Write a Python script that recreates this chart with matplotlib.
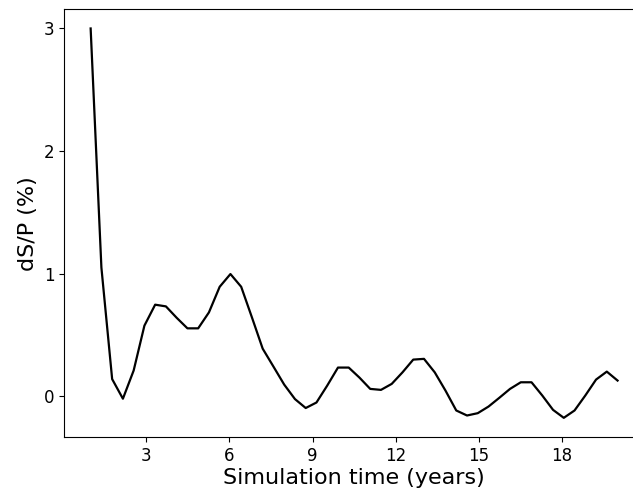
import numpy as np
import matplotlib
matplotlib.use("Agg")
import matplotlib.pyplot as plt

# Simulation time (years): 50 regular samples from year 1 to year 20
time_start = 1.0
time_end = 20.0
n_samples = 50
time_years = np.linspace(time_start, time_end, n_samples)

ds_over_p = [
    3.00, 1.05, 0.14, -0.02, 0.21, 0.576, 0.747, 0.733, 0.64, 0.554,
    0.554, 0.684, 0.893, 0.997, 0.893, 0.643, 0.388, 0.242, 0.095, -0.023,
    -0.096, -0.051, 0.087, 0.234, 0.234, 0.152, 0.060, 0.052, 0.101, 0.195,
    0.299, 0.305, 0.195, 0.046, -0.116, -0.157, -0.138, -0.084, -0.013, 0.060,
    0.114, 0.114, 0.006, -0.111, -0.176, -0.116, 0.006, 0.136, 0.201, 0.128,
]

x_ticks = [3, 6, 9, 12, 15, 18]
y_ticks = [0, 1, 2, 3]

fig = plt.figure(figsize=(6.33, 4.95), dpi=100)
ax = fig.add_axes([64.3 / 633, 57.7 / 495, 579.6 / 633, 428.3 / 495])
ax.plot(time_years, ds_over_p, color="black", linewidth=1.6)
ax.set_xticks(x_ticks)
ax.set_yticks(y_ticks)
ax.tick_params(labelsize=12)
ax.set_xlabel("Simulation time (years)", fontsize=16, labelpad=2)
ax.set_ylabel("dS/P (%)", fontsize=16)
fig.savefig("out.png", dpi=100)
